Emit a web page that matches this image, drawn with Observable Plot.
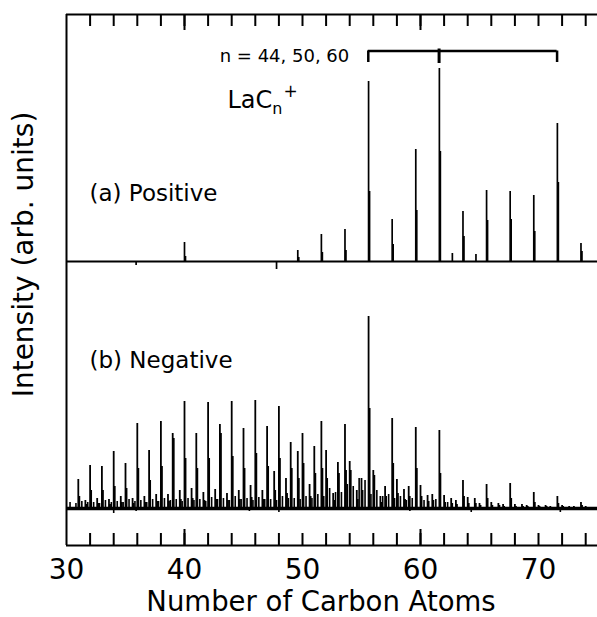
<!DOCTYPE html>
<html>
<head>
<meta charset="utf-8">
<script src="https://cdn.jsdelivr.net/npm/d3@7"></script>
<script src="https://cdn.jsdelivr.net/npm/@observablehq/plot@0.6"></script>
<style>
  html, body { margin: 0; padding: 0; background: #fff; }
  #chart svg { display: block; }
</style>
</head>
<body>
<div id="chart"></div>
<script>
// ---------- axis / labels ----------
const xTitle = "Number of Carbon Atoms";
const yTitle = "Intensity (arb. units)";
const xTickLabels = [30, 40, 50, 60, 70];
const xMinorTicks = [32, 34, 36, 38, 40, 42, 44, 46, 48, 50, 52, 54, 56, 58, 60, 62, 64, 66, 68, 70, 72, 74];
const xMajorTicks = [40, 60];
const panelLabels = ["(a) Positive", "(b) Negative"];
const bracketLabel = "n = 44, 50, 60";
const bracketN = [44, 50, 60];
const laMassInCarbons = 138.9 / 12;   // La atom expressed in carbon-atom units

// ---------- (a) positive-ion spectrum (LaCn+) ----------
const posX        = [35.9, 40.0, 47.8, 49.6, 51.6, 53.6, 55.6, 57.6, 59.6, 61.6, 62.7, 63.6, 64.7, 65.6, 67.6, 69.6, 71.6, 73.6];
const posH        = [-4,   19,   -8,   11,   27,   32,   180,  42,   112,  193,  8,    50,   7,    71,   70,   66,   138,  18];
const posShoulder = [0,    5,    0,    4,    9,    11,   70,   17,   51,   110,  0,    25,   0,    41,   42,   30,   79,   10];

// ---------- (b) negative-ion spectrum ----------
// Cn- peaks (integer positions)
const negCX = [31, 32, 33, 34, 35, 36, 37, 38, 39, 40, 41, 42, 43, 44, 45, 46, 47, 48, 49, 50, 51, 52,
               53, 54, 55, 56, 57, 58, 59, 60, 61, 62, 63, 64, 65, 66, 67, 68, 69, 70, 71, 72, 73, 74];
const negCH = [29, 43, 42, 57, 45, 85, 58, 87, 75, 107, 75, 106, 84, 107, 80, 108, 82, 102, 66, 75, 62, 58,
               46, 47, 30, 38, 22, 29, 22, 23, 14, 13, 8, 11, 5, 6, 4, 4, 3, 3, 2, 3, 2, 2];
const negCShoulder = [12, 18, 18, 22, 20, 40, 28, 42, 70, 50, 40, 50, 75, 52, 40, 55, 42, 50, 40, 45, 35, 30,
               35, 38, 18, 33, 12, 15, 12, 12, 8, 6, 4, 5, 3, 3, 2, 2, 2, 2, 1, 2, 1, 1];
// LaCn- peaks
const negLaX = [31.6, 32.6, 33.6, 34.6, 35.6, 36.6, 37.6, 38.6, 39.6, 40.6, 41.6, 42.6, 43.6, 44.6, 45.6,
                46.6, 47.6, 48.6, 49.6, 50.6, 51.6, 52.6, 53.6, 54.6, 55.6, 56.6, 57.6, 58.6, 59.6, 60.6,
                61.6, 62.6, 63.6, 64.6, 65.6, 66.6, 67.6, 68.6, 69.6, 70.6, 71.6, 72.6, 73.6];
const negLaH = [8, 10, 9, 12, 10, 12, 14, 14, 18, 20, 16, 19, 15, 18, 23,
                18, 37, 30, 57, 24, 87, 15, 84, 18, 192, 12, 90, 19, 81, 13,
                78, 10, 28, 10, 24, 5, 25, 4, 16, 3, 12, 2, 6];
const negLaShoulder = [4, 5, 4, 6, 5, 6, 7, 7, 9, 10, 8, 9, 8, 9, 11,
                9, 18, 15, 30, 12, 40, 8, 38, 9, 100, 6, 45, 9, 40, 7,
                35, 5, 12, 5, 10, 3, 10, 2, 6, 2, 5, 1, 3];
// small side peaks ("grass")
const negMinorX = [30.3, 31.3, 32.3, 33.3, 34.3, 35.3, 36.3, 37.3, 38.3, 39.3, 40.3, 41.3, 42.3, 43.3, 44.3,
                   45.3, 46.3, 47.3, 48.3, 49.3, 50.3, 51.3, 52.3, 53.3, 54.3, 55.3, 56.3, 57.3, 58.3, 59.3,
                   60.3, 61.3, 62.3];
const negMinorH = [6, 7, 6, 8, 7, 9, 8, 9, 10, 9, 10, 9, 11, 10, 12,
                   10, 11, 9, 12, 10, 12, 14, 20, 16, 22, 28, 18, 14, 12, 10,
                   8, 9, 6];
const negMinor2X = [30.8, 31.8, 32.8, 33.8, 34.8, 35.8, 36.8, 37.8, 38.8, 39.8, 40.8, 41.8, 42.8, 43.8, 44.8,
                    45.8, 46.8, 47.8, 48.8, 49.8, 50.8, 51.8, 52.8, 53.8, 54.8, 55.8, 56.8, 57.8, 58.8];
const negMinor2H = [5, 6, 5, 6, 6, 7, 6, 7, 8, 7, 8, 7, 9, 8, 9,
                    8, 9, 8, 10, 9, 10, 12, 16, 24, 30, 14, 12, 10, 8];
const negDipX = [34.0, 35.9, 45.5, 48.0, 59.1, 64.3, 71.85];
const negDipH = [-5, -3, -3, -4, -3, -4, -4];

// ---------- build tables ----------
const zip = (xs, hs) => xs.map((x, i) => ({x, h: hs[i]}));
const posPeaks = zip(posX, posH);
const posShoulders = posX.map((x, i) => ({x: x + 0.07, h: posShoulder[i]})).filter(d => d.h > 0);
const negGrass = [...zip(negMinorX, negMinorH), ...zip(negMinor2X, negMinor2H), ...zip(negDipX, negDipH)];
const negPeaks = [...zip(negCX, negCH), ...zip(negLaX, negLaH)];
const negShoulders = [
  ...negCX.map((x, i) => ({x: x + 0.08, h: negCShoulder[i]})),
  ...negLaX.map((x, i) => ({x: x + 0.08, h: negLaShoulder[i]}))
];

// ---------- layout ----------
const posOffset = 247;          // vertical offset of the positive spectrum
const yDomain = [-37, 494];
const frameH = 531;
const FONT = "DejaVu Sans";
const bracketX = bracketN.map(n => n + laMassInCarbons);
const bracketY = 457.5, bracketY2 = 446;

const chart = Plot.plot({
  width: 597,
  height: 617,
  marginLeft: 66,
  marginRight: 0,
  marginTop: 14,
  marginBottom: 72,
  x: {domain: [30, 75], axis: null},
  y: {domain: yDomain, axis: null},
  style: {fontFamily: FONT, color: "black", background: "white", overflow: "visible"},
  marks: [
    // baselines
    Plot.ruleY([posOffset], {stroke: "black", strokeWidth: 2}),
    Plot.ruleY([0], {stroke: "black", strokeWidth: 3.5}),
    // positive spectrum
    Plot.ruleX(posShoulders, {x: "x", y1: posOffset, y2: d => posOffset + d.h, stroke: "black", strokeWidth: 2}),
    Plot.ruleX(posPeaks, {x: "x", y1: posOffset, y2: d => posOffset + d.h, stroke: "black", strokeWidth: 1.7}),
    // negative spectrum
    Plot.ruleX(negGrass, {x: "x", y1: 0, y2: "h", stroke: "black", strokeWidth: 1.6}),
    Plot.ruleX(negShoulders, {x: "x", y1: 0, y2: "h", stroke: "black", strokeWidth: 2}),
    Plot.ruleX(negPeaks, {x: "x", y1: 0, y2: "h", stroke: "black", strokeWidth: 1.8}),
    // frame (left, top, bottom)
    Plot.ruleX([30], {stroke: "black", strokeWidth: 2}),
    Plot.ruleY(yDomain, {stroke: "black", strokeWidth: 2}),
    // inward ticks, bottom and top
    Plot.ruleX(xMinorTicks, {insetTop: frameH - 12, stroke: "black", strokeWidth: 2}),
    Plot.ruleX(xMinorTicks, {insetBottom: frameH - 12, stroke: "black", strokeWidth: 2}),
    Plot.ruleX(xMajorTicks, {insetTop: frameH - 16, stroke: "black", strokeWidth: 2}),
    Plot.ruleX(xMajorTicks, {insetBottom: frameH - 16, stroke: "black", strokeWidth: 2}),
    // tick labels
    Plot.text(xTickLabels, {x: d => d, text: d => String(d), frameAnchor: "bottom", dy: 33,
      lineAnchor: "bottom", fontSize: 28, fill: "black"}),
    // axis titles
    Plot.text([xTitle], {frameAnchor: "bottom", dx: -11, dy: 65, textAnchor: "middle", lineAnchor: "bottom", fontSize: 27.5, fill: "black"}),
    Plot.text([yTitle], {frameAnchor: "left", rotate: -90, dx: -42, dy: -25.5, textAnchor: "middle", lineAnchor: "middle", fontSize: 28, fill: "black"}),
    // panel labels
    Plot.text([panelLabels[0]], {frameAnchor: "top-left", dx: 23, dy: 186, textAnchor: "start", lineAnchor: "bottom", fontSize: 23, fill: "black"}),
    Plot.text([panelLabels[1]], {frameAnchor: "top-left", dx: 23, dy: 353, textAnchor: "start", lineAnchor: "bottom", fontSize: 23, fill: "black"}),
    // bracket annotation
    Plot.ruleY([bracketY], {x1: bracketX[0], x2: bracketX[bracketX.length - 1], stroke: "black", strokeWidth: 2.5}),
    Plot.ruleX([bracketX[0], bracketX[2]], {x: d => d, y1: bracketY2, y2: bracketY, stroke: "black", strokeWidth: 2.5}),
    Plot.ruleX([bracketX[1]], {x: d => d, y1: bracketY2 - 1, y2: bracketY + 2, stroke: "black", strokeWidth: 3}),
    Plot.text([bracketLabel], {x: () => bracketX[0], frameAnchor: "top", dx: -19, dy: 47.5, textAnchor: "end",
      lineAnchor: "bottom", fontSize: 18, fill: "black"}),
    // ion label
    Plot.text(["LaC"], {frameAnchor: "top-left", dx: 161, dy: 93, textAnchor: "start", lineAnchor: "bottom", fontSize: 24, fill: "black"})
  ]
});

// subscript n and superscript + on the ion label
d3.select(chart).selectAll("text")
  .filter(function() { return this.textContent === "LaC"; })
  .each(function() {
    const t = d3.select(this);
    t.append("tspan").attr("dy", 6).attr("font-size", 16).text("n");
    t.append("tspan").attr("dx", 1).attr("dy", -17).attr("font-size", 17).text("+");
  });

document.getElementById("chart").appendChild(chart);
</script>
</body>
</html>
